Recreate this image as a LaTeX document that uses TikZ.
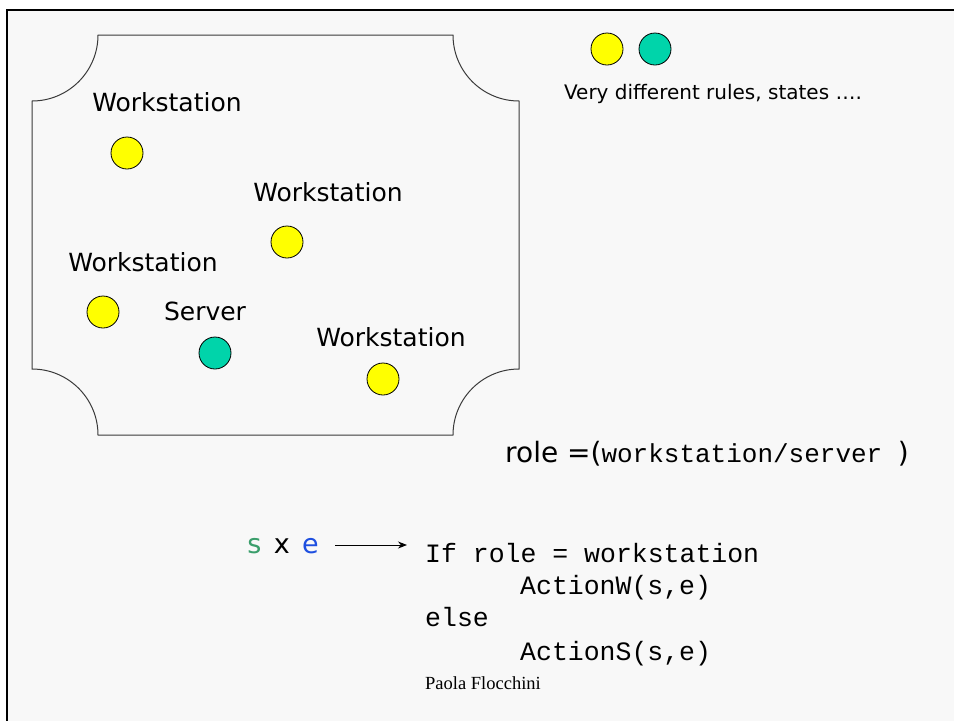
\documentclass[tikz,border=0pt]{standalone}
\usepackage{fontspec}
\setmainfont{DejaVu Sans}
\newfontfamily\codefont{Liberation Mono}
\newfontfamily\authorfont{Liberation Serif}
\usetikzlibrary{arrows.meta}

\definecolor{pagegrey}{HTML}{F8F8F8}
\definecolor{wsyellow}{HTML}{FFFF00}
\definecolor{srvteal}{HTML}{00D4AA}
\definecolor{sgreen}{HTML}{3A9E6B}
\definecolor{eblue}{HTML}{1E4FE0}
\definecolor{outline}{HTML}{3A3A3A}

\tikzset{
  dot/.style={circle, draw=black, line width=0.8pt, minimum size=32pt, inner sep=0pt},
  wsdot/.style={dot, fill=wsyellow},
  srvdot/.style={dot, fill=srvteal},
  label25/.style={inner sep=0pt, font=\fontsize{25}{30}\selectfont},
  codeline/.style={inner sep=0pt, anchor=base west, font=\codefont\fontsize{26.5}{32}\selectfont},
  plaque/.style={draw=outline, line width=1pt}
}

\begin{document}
\begin{tikzpicture}[x=1pt, y=-1pt]
  \useasboundingbox (0,0) rectangle (954,721);
  \fill[white] (0,0) rectangle (954,721);
  \fill[pagegrey] (7,10) rectangle (954,721);
  % frame edges (top and left)
  \draw[line width=2.2pt, black] (954,10) -- (7,10) -- (7,721);

  % network area with concave corners
  \draw[plaque] (98,35) -- (453,35)
    arc[start angle=180, end angle=90, radius=66]
    -- (519,369)
    arc[start angle=270, end angle=180, radius=66]
    -- (98,435)
    arc[start angle=0, end angle=-90, radius=66]
    -- (32,101)
    arc[start angle=90, end angle=0, radius=66]
    -- cycle;

  % entities inside the network
  \node[label25] (ws1lbl) at (167,102) {Workstation};
  \node[wsdot] (ws1) at (127,153) {};
  \node[label25] (ws2lbl) at (328,192) {Workstation};
  \node[wsdot] (ws2) at (287,242) {};
  \node[label25] (ws3lbl) at (143,262) {Workstation};
  \node[wsdot] (ws3) at (103,312) {};
  \node[label25] (srvlbl) at (205,311) {Server};
  \node[srvdot] (srv) at (215,353) {};
  \node[label25] (ws4lbl) at (391,337) {Workstation};
  \node[wsdot] (ws4) at (383,379) {};

  % legend
  \node[wsdot] (legws) at (607,49) {};
  \node[srvdot] (legsrv) at (655,49) {};
  \node[inner sep=0pt, anchor=base, font=\fontsize{20}{24}\selectfont] (legtxt) at (713,99.5)
    {Very different rules, states ….};

  % role definition
  \node[inner sep=0pt, anchor=base west] (role) at (505,462)
    {\fontsize{28}{34}\selectfont role =(%
     {\codefont\fontsize{26}{32}\selectfont workstation/server\ })};

  % state x event mapped to action
  \node[inner sep=0pt, inner xsep=16pt, anchor=east, font=\fontsize{27}{32}\selectfont] (sxe) at (335,546)
    {\textcolor{sgreen}{s}\hspace{0.46em}x\hspace{0.46em}\textcolor{eblue}{e}};
  \node[codeline] (code1) at (425,562) {If role = workstation};
  \node[codeline] (code2) at (520,594) {ActionW(s,e)};
  \node[codeline] (code3) at (425,626) {else};
  \node[codeline] (code4) at (520,660) {ActionS(s,e)};
  \draw[line width=1pt, -{Stealth[length=9pt, width=7pt]}, shorten >=18pt]
    ([yshift=1pt]sxe.east) -- ([yshift=1pt]sxe.east -| code1.west);

  \node[inner sep=0pt, anchor=base west, font=\authorfont\fontsize{18.5}{22}\selectfont] (author) at (425,689)
    {Paola Flocchini};
\end{tikzpicture}
\end{document}
